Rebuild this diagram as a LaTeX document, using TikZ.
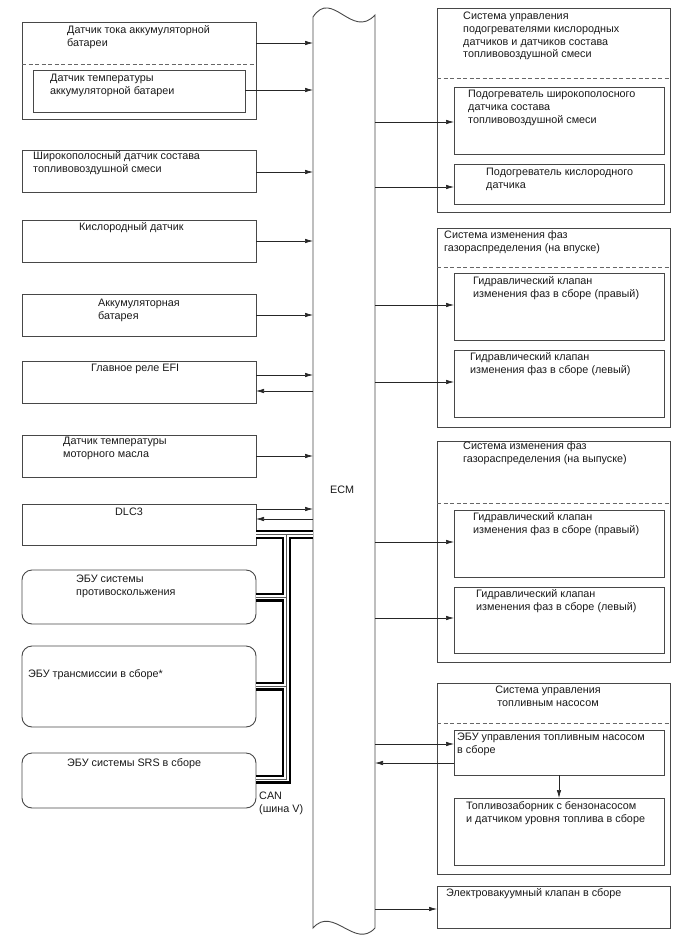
\documentclass[tikz,border=0pt]{standalone}
\usepackage{fontspec}
\setmainfont{Liberation Sans}
\usetikzlibrary{arrows.meta}
\tikzset{
 box/.style={draw=black!72, line width=0.9pt, inner sep=0pt, outer sep=0pt},
 rbox/.style={rounded corners=10pt},
 txt/.style={anchor=base west, inner sep=0pt, font=\fontsize{10.8}{12.8}\selectfont, text=black!90},
 ctxt/.style={txt, anchor=base},
 arr/.style={draw=black!85, line width=0.7pt, -{Latex[length=8pt,width=4.5pt]}},
 dashline/.style={draw=black!60, line width=0.8pt, dash pattern=on 4pt off 2.5pt},
}
\newcommand\bx[6][]{\node[box,#1,anchor=north west,minimum width={(#5-#3)*1pt},minimum height={(#6-#4)*1pt}] (#2) at (#3,#4) {};}
\newcommand\tx[4]{\node[txt] (#1) at (#2,#3) {\begin{tabular}[t]{@{}l@{}}#4\end{tabular}};}
\begin{document}
\begin{tikzpicture}[x=1pt,y=-1pt]
\useasboundingbox (0,0) rectangle (688,949);
% ECM
\node[inner sep=0pt, outer sep=0pt, minimum width=62pt, minimum height=911pt, anchor=north west] (ecm) at (313,17) {};
\draw[draw=black!72, line width=0.9pt] (313,928) -- (313,17) .. controls (332,-12) and (352,40) .. (375,15) -- (375,928) .. controls (355,950) and (333,905) .. (313,928) -- cycle;
\node[txt] (ecmlbl) at (330,493.5) {ECM};
% CAN bus
\coordinate (t0) at (286.5,534.5);
\coordinate (t1) at (286.5,597);
\coordinate (t2) at (286.5,686);
\coordinate (t3) at (286.5,779);
% left boxes
\bx{b1}{22}{22}{256}{119}
\bx{b1i}{33}{70}{245}{112}
\bx{b2}{22}{150}{256}{192}
\bx{b3}{22}{220}{256}{262}
\bx{b4}{22}{294}{256}{336}
\bx{efi}{22}{361}{256}{403}
\bx{b6}{22}{435}{256}{477}
\bx{dlc}{22}{504}{256}{545}
\bx[rbox]{abs}{22}{570}{256}{624}
\bx[rbox]{tcm}{22}{646}{256}{727}
\bx[rbox]{srs}{22}{753}{256}{808}
\draw[dashline] (b1.west |- 0,64) -- (b1.east |- 0,64);
% bus drawing
\draw[black, line width=2.2pt, double=white, double distance=4.6pt]
  (dlc.east |- t0) -- (ecm.west |- t0)
  (t0) -- (t3) -- (srs.east |- t3)
  (t1) -- (abs.east |- t1)
  (t2) -- (tcm.east |- t2);
\draw[black!65, line width=0.9pt]
  (dlc.east |- t0) -- (ecm.west |- t0)
  (t0) -- (t3) -- (srs.east |- t3)
  (t1) -- (abs.east |- t1)
  (t2) -- (tcm.east |- t2);
% right boxes
\bx{r1}{437}{8}{670}{212}
\bx{r1a}{454}{87}{664}{154}
\bx{r1b}{454}{164}{664}{204}
\bx{r2}{437}{228}{670}{427}
\bx{r2a}{454}{273}{664}{340}
\bx{r2b}{454}{350}{664}{417}
\bx{r3}{437}{441}{670}{662}
\bx{r3a}{454}{510}{664}{577}
\bx{r3b}{454}{587}{664}{653}
\bx{r4}{437}{683}{670}{874}
\bx{r4a}{454}{730}{664}{775}
\bx{r4b}{454}{798}{664}{865}
\bx{r5}{437}{886}{670}{928}
\draw[dashline] (r1.west |- 0,78) -- (r1.east |- 0,78);
\draw[dashline] (r2.west |- 0,267) -- (r2.east |- 0,267);
\draw[dashline] (r3.west |- 0,503) -- (r3.east |- 0,503);
\draw[dashline] (r4.west |- 0,723) -- (r4.east |- 0,723);
% texts left
\tx{tb1}{67}{33.5}{Датчик тока аккумуляторной\\батареи}
\tx{tb1i}{50}{82}{Датчик температуры\\аккумуляторной батареи}
\tx{tb2}{33}{159.5}{Широкополосный датчик состава\\топливовоздушной смеси}
\tx{tb3}{79}{230.5}{Кислородный датчик}
\tx{tb4}{98}{306.5}{Аккумуляторная\\батарея}
\tx{tefi}{91}{371.5}{Главное реле EFI}
\tx{tb6}{63}{444.5}{Датчик температуры\\моторного масла}
\tx{tdlc}{115}{515.5}{DLC3}
\tx{tabs}{76}{582.5}{ЭБУ системы\\противоскольжения}
\tx{ttcm}{28}{677.5}{ЭБУ трансмиссии в сборе*}
\tx{tsrs}{67}{766.5}{ЭБУ системы SRS в сборе}
\tx{tcan}{259}{799.5}{CAN\\(шина V)}
% texts right
\tx{tr1}{463}{19.5}{Система управления\\подогревателями кислородных\\датчиков и датчиков состава\\топливовоздушной смеси}
\tx{tr1a}{468}{97.5}{Подогреватель широкополосного\\датчика состава\\топливовоздушной смеси}
\tx{tr1b}{486}{175.5}{Подогреватель кислородного\\датчика}
\tx{tr2}{444}{238.5}{Система изменения фаз\\газораспределения (на впуске)}
\tx{tr2a}{473}{284.5}{Гидравлический клапан\\изменения фаз в сборе (правый)}
\tx{tr2b}{470}{360.5}{Гидравлический клапан\\изменения фаз в сборе (левый)}
\tx{tr3}{463}{449.5}{Система изменения фаз\\газораспределения (на выпуске)}
\tx{tr3a}{473}{520.5}{Гидравлический клапан\\изменения фаз в сборе (правый)}
\tx{tr3b}{476}{597.5}{Гидравлический клапан\\изменения фаз в сборе (левый)}
\node[ctxt] (tr4) at (548,693.5) {\begin{tabular}[t]{@{}c@{}}Система управления\\топливным насосом\end{tabular}};
\tx{tr4a}{457}{740.5}{ЭБУ управления топливным насосом\\в сборе}
\tx{tr4b}{466}{809.5}{Топливозаборник с бензонасосом\\и датчиком уровня топлива в сборе}
\tx{tr5}{446}{896.5}{Электровакуумный клапан в сборе}
% arrows left -> ECM
\draw[arr] (b1.east |- 0,43) -- (ecm.west |- 0,43);
\draw[arr] (b1i.east |- 0,90) -- (ecm.west |- 0,90);
\draw[arr] (b2.east |- 0,172) -- (ecm.west |- 0,172);
\draw[arr] (b3.east |- 0,241) -- (ecm.west |- 0,241);
\draw[arr] (b4.east |- 0,315) -- (ecm.west |- 0,315);
\draw[arr] (efi.east |- 0,375) -- (ecm.west |- 0,375);
\draw[arr] (ecm.west |- 0,391) -- (efi.east |- 0,391);
\draw[arr] (b6.east |- 0,456) -- (ecm.west |- 0,456);
\draw[arr] (dlc.east |- 0,509) -- (ecm.west |- 0,509);
\draw[arr] (ecm.west |- 0,519) -- (dlc.east |- 0,519);
% arrows ECM -> right
\draw[arr] (ecm.east |- 0,122) -- (r1a.west |- 0,122);
\draw[arr] (ecm.east |- 0,187) -- (r1b.west |- 0,187);
\draw[arr] (ecm.east |- 0,305) -- (r2a.west |- 0,305);
\draw[arr] (ecm.east |- 0,382) -- (r2b.west |- 0,382);
\draw[arr] (ecm.east |- 0,542) -- (r3a.west |- 0,542);
\draw[arr] (ecm.east |- 0,618) -- (r3b.west |- 0,618);
\draw[arr] (ecm.east |- 0,744) -- (r4a.west |- 0,744);
\draw[arr] (r4a.west |- 0,763) -- (ecm.east |- 0,763);
\draw[arr] (ecm.east |- 0,909) -- (r5.west |- 0,909);
\draw[arr] (r4a.south) -- (r4b.north);
\end{tikzpicture}
\end{document}
